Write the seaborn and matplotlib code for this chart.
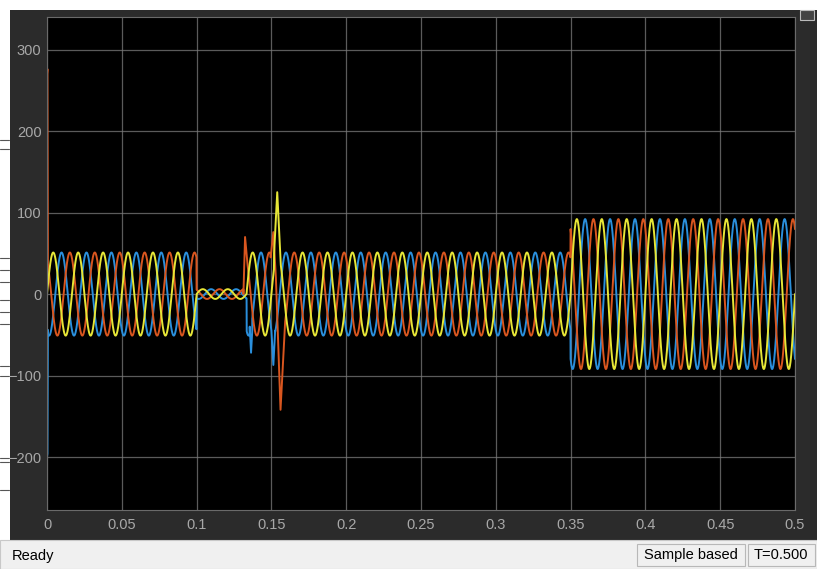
import numpy as np
import pandas as pd
import matplotlib
matplotlib.use("Agg")
import matplotlib.pyplot as plt
from matplotlib.patches import Rectangle
from matplotlib.lines import Line2D
import seaborn as sns

# scope settings (3 phase, 60 Hz)
freq = 60
seg_edges = [0.0, 0.1, 0.1335, 0.35, 0.5]   # s
seg_amps = [51, 6, 51, 92]                   # peak value per segment
phase_names = ['blue', 'orange', 'yellow']
phase_shift_deg = [-120, 120, 0]
phase_colors = ['#2a8fdc', '#d9561f', '#e6e637']

# transient points (time, value) that replace the steady waveform
blue_spikes = [
    ([0.0, 0.0003, 0.0006], [-200, -196, -44]),
    ([0.1355, 0.1364, 0.1372], [-40, -72, -45]),
    ([0.1500, 0.1513, 0.1525], [-45, -87, -45]),
]
orange_spikes = [
    ([0.0, 0.0003, 0.0006], [270, 276, 44]),
    ([0.1313, 0.1324, 0.1340], [0, 70, 36]),
    ([0.1495, 0.1513, 0.1530, 0.1561, 0.1590], [45, 76, 20, -142, -40]),
]
yellow_spikes = [
    ([0.1518, 0.1539, 0.1562], [50, 125, 38]),
]
spikes = [blue_spikes, orange_spikes, yellow_spikes]

xticks = [0, 0.05, 0.1, 0.15, 0.2, 0.25, 0.3, 0.35, 0.4, 0.45, 0.5]
xticklabels = ['0', '0.05', '0.1', '0.15', '0.2', '0.25', '0.3', '0.35', '0.4', '0.45', '0.5']
yticks = [-200, -100, 0, 100, 200, 300]

t = np.linspace(0, 0.5, 5001)
seg_idx = np.clip(np.searchsorted(seg_edges, t, side='right') - 1, 0, len(seg_amps) - 1)
amp = np.array(seg_amps)[seg_idx]

frames = []
for name, shift, sp in zip(phase_names, phase_shift_deg, spikes):
    y = amp * np.sin(2 * np.pi * freq * t + np.deg2rad(shift))
    keep = np.ones_like(t, dtype=bool)
    for tt, vv in sp:
        keep &= ~((t >= tt[0]) & (t <= tt[-1]))
    ts = np.concatenate([t[keep]] + [np.array(tt) for tt, vv in sp])
    ys = np.concatenate([y[keep]] + [np.array(vv, dtype=float) for tt, vv in sp])
    order = np.argsort(ts, kind='stable')
    frames.append(pd.DataFrame({'t': ts[order], 'v': ys[order], 'phase': name}))
df = pd.concat(frames, ignore_index=True)

sns.set_style("dark")
plt.rcParams['font.family'] = ['Liberation Sans Narrow', 'Liberation Sans', 'DejaVu Sans']

W, H = 817, 569
fig = plt.figure(figsize=(W / 100, H / 100), dpi=100, facecolor='white')

def fx(px):
    return px / W

def fy(py):
    return 1 - py / H

# scope window frame
fig.patches.append(Rectangle((fx(10), fy(540)), fx(807), 530 / H, transform=fig.transFigure,
                             facecolor='#2b2b2b', edgecolor='none', zorder=-5))
fig.patches.append(Rectangle((0, 0), 1, 29 / H, transform=fig.transFigure,
                             facecolor='#f0f0f0', edgecolor='#c8c8c8', lw=0.8, zorder=-5))
fig.patches.append(Rectangle((fx(637), fy(566)), fx(108), 22 / H, transform=fig.transFigure,
                             facecolor='#f0f0f0', edgecolor='#b8b8b8', lw=0.8, zorder=-4))
fig.patches.append(Rectangle((fx(748), fy(566)), fx(67), 22 / H, transform=fig.transFigure,
                             facecolor='#f0f0f0', edgecolor='#b8b8b8', lw=0.8, zorder=-4))
fig.patches.append(Rectangle((fx(800), fy(20)), fx(14), 10 / H, transform=fig.transFigure,
                             facecolor='#444444', edgecolor='#bbbbbb', lw=0.8, zorder=-4))
# stray marks in the left margin of the screenshot
for py in [140, 149, 258, 270, 282, 300, 312, 324, 366, 376, 458, 462, 490]:
    fig.lines.append(Line2D([0, fx(9)], [fy(py), fy(py)], transform=fig.transFigure,
                            color='#555555', lw=0.8))
fig.text(fx(12), fy(556), 'Ready', fontsize=10.5, color='black', va='center', ha='left')
fig.text(fx(691), fy(555), 'Sample based', fontsize=10.5, color='black', va='center', ha='center')
fig.text(fx(781), fy(555), 'T=0.500', fontsize=10.5, color='black', va='center', ha='center')

ax = fig.add_axes([fx(47), fy(510), fx(748), 493 / H])
ax.set_zorder(5)
sns.lineplot(data=df, x='t', y='v', hue='phase', hue_order=phase_names,
             palette=phase_colors, estimator=None, sort=False, lw=1.4, legend=False, ax=ax)

ax.set_facecolor('black')
ax.set_xlim(0, 0.5)
ax.set_ylim(-265, 340)
ax.set_xticks(xticks)
ax.set_xticklabels(xticklabels)
ax.set_yticks(yticks)
ax.set_xlabel('')
ax.set_ylabel('')
ax.grid(True, color='#7a7a7a', lw=0.9, alpha=0.75)
ax.set_axisbelow(True)
for s in ax.spines.values():
    s.set_visible(True)
    s.set_color('#6a6a6a')
    s.set_linewidth(0.8)
ax.tick_params(axis='both', colors='#a8a8a8', labelsize=10.5, direction='in', length=4)
ax.tick_params(axis='x', pad=6)
ax.tick_params(axis='y', pad=4)

fig.savefig('out.png', dpi=100, facecolor=fig.get_facecolor())
